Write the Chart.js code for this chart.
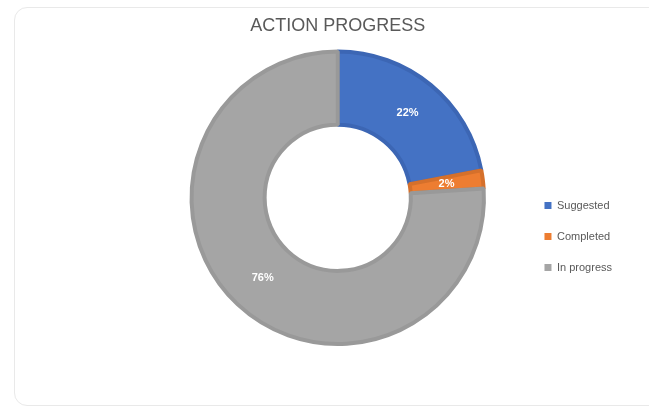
<!DOCTYPE html>
<html>
<head>
<meta charset="utf-8">
<script src="https://cdn.jsdelivr.net/npm/chart.js@4/dist/chart.umd.min.js"></script>
<style>
  html, body { margin: 0; padding: 0; background: #fff; overflow: hidden; }
  #card { position: absolute; left: 14px; top: 7px; width: 660px; height: 397px;
          border: 1px solid #e9e9e9; border-radius: 13px; }
  #canvas { position: absolute; left: 0; top: 0; }
</style>
</head>
<body>
<div id="card"></div>
<canvas id="canvas" width="649" height="406"></canvas>
<script>
var labels = ['Suggested', 'Completed', 'In progress'];
var values = [22, 2, 76];
var fills = ['#4472C4', '#ED7D31', '#A5A5A5'];
var borders = ['#3C66B4', '#D5702B', '#999999'];

// white percentage labels inside each slice
var sliceLabels = {
  id: 'sliceLabels',
  afterDatasetsDraw: function(chart) {
    var ctx = chart.ctx;
    var meta = chart.getDatasetMeta(0);
    var total = values.reduce(function(a, b) { return a + b; }, 0);
    ctx.save();
    ctx.font = 'bold 11px "Liberation Sans", Arial, sans-serif';
    ctx.fillStyle = '#ffffff';
    ctx.textAlign = 'center';
    ctx.textBaseline = 'middle';
    meta.data.forEach(function(arc, i) {
      var p = arc.tooltipPosition();
      ctx.fillText(Math.round(values[i] / total * 100) + '%', p.x, p.y);
    });
    ctx.restore();
  }
};

window.onload = function() {
  var ctx = document.getElementById('canvas').getContext('2d');
  window.myChart = new Chart(ctx, {
    type: 'doughnut',
    data: {
      labels: labels,
      datasets: [{
        data: values,
        backgroundColor: fills,
        borderColor: borders,
        borderWidth: 4
      }]
    },
    options: {
      responsive: false,
      animation: false,
      cutout: '50%',
      layout: { padding: { top: 15, left: 151, right: 27, bottom: 60 } },
      plugins: {
        title: {
          display: true,
          fullSize: false,
          text: 'ACTION PROGRESS',
          color: '#595959',
          font: { family: '"Liberation Sans", Arial, sans-serif', size: 18, weight: 'normal' },
          padding: { top: 0, bottom: 13 }
        },
        legend: {
          position: 'right',
          title: { display: true, text: ' ', font: { size: 10 }, padding: { top: 100, bottom: 0 } },
          labels: {
            boxWidth: 7,
            boxHeight: 7,
            padding: 20,
            color: '#595959',
            font: { family: '"Liberation Sans", Arial, sans-serif', size: 11 },
            generateLabels: function(chart) {
              var items = Chart.overrides.doughnut.plugins.legend.labels.generateLabels(chart);
              items.forEach(function(it) { it.lineWidth = 0; });
              return items;
            }
          }
        },
        tooltip: { enabled: false }
      }
    },
    plugins: [sliceLabels]
  });
};
</script>
</body>
</html>
